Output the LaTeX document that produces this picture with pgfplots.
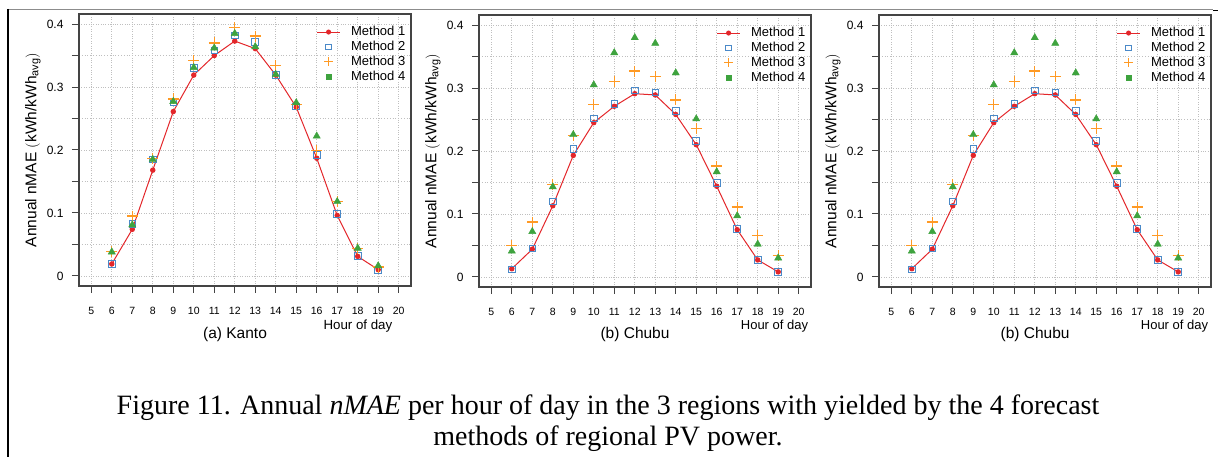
\documentclass[border=0pt]{standalone}
\usepackage{pgfplots}
\usepackage{pgfplotstable}
\pgfplotsset{compat=1.18}
\usepackage{fontspec}
\setmainfont{Liberation Sans}
\newfontfamily\capfont{Liberation Serif}

\definecolor{mred}{HTML}{E3262A}
\definecolor{mblue}{HTML}{4A89C8}
\definecolor{morange}{HTML}{FF9A24}
\definecolor{mgreen}{HTML}{3EA33E}
\definecolor{axgray}{HTML}{444444}

% hour, method 1..4
\pgfplotstableread{
h  m1     m2     m3     m4
6  0.019  0.019  0.039  0.038
7  0.074  0.083  0.095  0.081
8  0.168  0.185  0.187  0.185
9  0.261  0.276  0.281  0.277
10 0.319  0.330  0.342  0.331
11 0.350  0.358  0.370  0.362
12 0.373  0.382  0.394  0.385
13 0.361  0.372  0.381  0.364
14 0.319  0.319  0.334  0.320
15 0.268  0.269  0.272  0.275
16 0.187  0.192  0.199  0.222
17 0.096  0.098  0.118  0.118
18 0.031  0.032  0.044  0.044
19 0.010  0.009  0.014  0.016
}\kanto

\pgfplotstableread{
h  m1     m2     m3     m4
6  0.013  0.012  0.050  0.041
7  0.044  0.045  0.087  0.072
8  0.113  0.120  0.147  0.143
9  0.193  0.203  0.225  0.226
10 0.245  0.252  0.274  0.305
11 0.271  0.275  0.310  0.356
12 0.291  0.296  0.327  0.380
13 0.289  0.293  0.318  0.371
14 0.258  0.264  0.281  0.324
15 0.210  0.216  0.236  0.251
16 0.144  0.149  0.176  0.167
17 0.075  0.076  0.111  0.097
18 0.027  0.027  0.066  0.052
19 0.008  0.008  0.034  0.030
}\chubu

\pgfplotsset{
  legend image code/.code={\draw[mark repeat=2,mark phase=2,#1] plot coordinates {(0pt,0pt)(11.5pt,0pt)(23pt,0pt)};
    \path (32pt,0pt);},
  panel/.style={
    scale only axis, width=332pt, height=272pt,
    xmin=4.4, xmax=20.6, ymin=-0.016, ymax=0.416,
    xtick={5,...,20}, ytick={0,0.1,0.2,0.3,0.4},
    minor ytick={0.05,0.15,0.25,0.35},
    grid=both,
    grid style={dotted, color=black!25, line width=0.8pt},
    minor grid style={dotted, color=black!25, line width=0.8pt},
    tick align=outside, tick pos=left,
    major tick length=7pt, minor tick length=7pt,
    axis line style={axgray, line width=1.2pt},
    every tick/.style={axgray, line width=1pt},
    xticklabel style={font=\fontsize{10.5}{12}\selectfont, yshift=-11pt},
    yticklabel style={font=\fontsize{12}{14}\selectfont, xshift=-5pt},
    /pgf/number format/assume math mode=true,
    clip=false,
    legend style={at={(rel axis cs:0.715,0.96)}, anchor=north west, draw=none, fill=none,
      font=\fontsize{13}{15}\selectfont, row sep=0.9pt, inner sep=0pt,
      nodes={inner sep=1.5pt}},
    legend cell align=left,
  },
  m1/.style={mred, line width=1pt, mark=*, mark size=2.2pt},
  m2/.style={only marks, mblue, mark=square, mark size=3.3pt, line width=0.9pt},
  m3/.style={only marks, morange, mark=+, mark size=5.5pt, line width=1.3pt},
  m4/.style={only marks, mgreen, mark=triangle*, mark size=4.2pt},
}

\newcommand{\ylab}{Annual nMAE \big(kWh/kWh\textsubscript{avg}\big)}

\begin{document}
\begin{tikzpicture}
\path[use as bounding box] (0pt,0pt) rectangle (1218pt,457pt);
\draw[black!45, line width=1pt] (8pt,447pt) -- (1213pt,447pt);
\draw[black, line width=1pt] (1213pt,446pt) -- (1218pt,446pt);
\draw[black, line width=2pt] (8pt,448pt) -- (8pt,0pt);

% (a) Kanto
\begin{axis}[panel, at={(79pt,171pt)}, anchor=south west]
  \addplot[m1, forget plot] table[x=h, y=m1] {\kanto};
  \addplot[m2, forget plot] table[x=h, y=m2] {\kanto};
  \addplot[m3, forget plot] table[x=h, y=m3] {\kanto};
  \addplot[m4, forget plot] table[x=h, y=m4] {\kanto};
  \addlegendimage{mred, line width=1pt, mark=*, mark size=2pt}
  \addlegendentry{Method 1}
  \addlegendimage{only marks, mblue, mark=square, mark size=2.7pt, line width=0.8pt}
  \addlegendentry{Method 2}
  \addlegendimage{only marks, morange, mark=+, mark size=4.5pt, line width=1pt}
  \addlegendentry{Method 3}
  \addlegendimage{only marks, mgreen, mark=square*, mark size=2.7pt}
  \addlegendentry{Method 4}
  \node[rotate=90, font=\fontsize{15.5}{17}\selectfont] at (rel axis cs:-0.139,0.5) {\ylab};
  \node[font=\fontsize{15.5}{17}\selectfont] at (rel axis cs:0.47,-0.178) {(a) Kanto};
  \node[font=\fontsize{13.3}{15}\selectfont] at (rel axis cs:0.84,-0.148) {Hour of day};
\end{axis}

% (b) Chubu
\begin{axis}[panel, at={(479pt,170pt)}, anchor=south west]
  \addplot[m1, forget plot] table[x=h, y=m1] {\chubu};
  \addplot[m2, forget plot] table[x=h, y=m2] {\chubu};
  \addplot[m3, forget plot] table[x=h, y=m3] {\chubu};
  \addplot[m4, forget plot] table[x=h, y=m4] {\chubu};
  \addlegendimage{mred, line width=1pt, mark=*, mark size=2pt}
  \addlegendentry{Method 1}
  \addlegendimage{only marks, mblue, mark=square, mark size=2.7pt, line width=0.8pt}
  \addlegendentry{Method 2}
  \addlegendimage{only marks, morange, mark=+, mark size=4.5pt, line width=1pt}
  \addlegendentry{Method 3}
  \addlegendimage{only marks, mgreen, mark=square*, mark size=2.7pt}
  \addlegendentry{Method 4}
  \node[rotate=90, font=\fontsize{15.5}{17}\selectfont] at (rel axis cs:-0.139,0.5) {\ylab};
  \node[font=\fontsize{15.5}{17}\selectfont] at (rel axis cs:0.47,-0.174) {(b) Chubu};
  \node[font=\fontsize{13}{15}\selectfont] at (rel axis cs:0.89,-0.143) {Hour of day};
\end{axis}

% (b) Chubu, repeated as in the reference
\begin{axis}[panel, at={(879pt,170pt)}, anchor=south west]
  \addplot[m1, forget plot] table[x=h, y=m1] {\chubu};
  \addplot[m2, forget plot] table[x=h, y=m2] {\chubu};
  \addplot[m3, forget plot] table[x=h, y=m3] {\chubu};
  \addplot[m4, forget plot] table[x=h, y=m4] {\chubu};
  \addlegendimage{mred, line width=1pt, mark=*, mark size=2pt}
  \addlegendentry{Method 1}
  \addlegendimage{only marks, mblue, mark=square, mark size=2.7pt, line width=0.8pt}
  \addlegendentry{Method 2}
  \addlegendimage{only marks, morange, mark=+, mark size=4.5pt, line width=1pt}
  \addlegendentry{Method 3}
  \addlegendimage{only marks, mgreen, mark=square*, mark size=2.7pt}
  \addlegendentry{Method 4}
  \node[rotate=90, font=\fontsize{15.5}{17}\selectfont] at (rel axis cs:-0.139,0.5) {\ylab};
  \node[font=\fontsize{15.5}{17}\selectfont] at (rel axis cs:0.47,-0.174) {(b) Chubu};
  \node[font=\fontsize{13}{15}\selectfont] at (rel axis cs:0.89,-0.143) {Hour of day};
\end{axis}

\node[anchor=base, font=\capfont\fontsize{28}{32}\selectfont] at (608pt,42pt)
  {Figure 11. Annual \textit{nMAE} per hour of day in the 3 regions with yielded by the 4 forecast};
\node[anchor=base, font=\capfont\fontsize{28}{32}\selectfont] at (608pt,11pt)
  {methods of regional PV power.};
\end{tikzpicture}
\end{document}
